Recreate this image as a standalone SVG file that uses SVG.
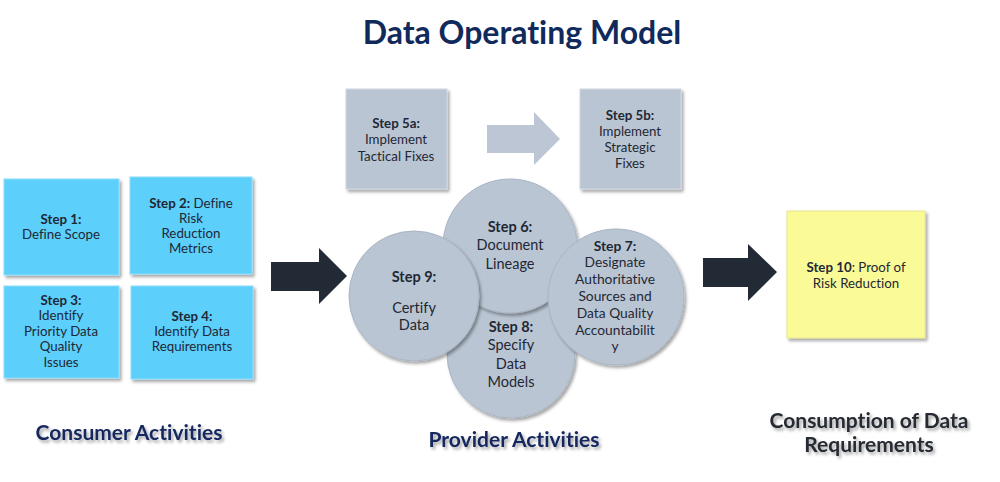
<svg xmlns="http://www.w3.org/2000/svg" width="1000" height="482" viewBox="0 0 1000 482">
<defs>
<filter id="sh" x="-10%" y="-10%" width="130%" height="130%">
<feDropShadow dx="2" dy="2.5" stdDeviation="1.6" flood-color="#000" flood-opacity="0.35"/>
</filter>
<filter id="tsh" x="-10%" y="-30%" width="130%" height="170%">
<feDropShadow dx="2" dy="2.5" stdDeviation="1.5" flood-color="#000" flood-opacity="0.35"/>
</filter>
</defs>
<style>
text{font-family:Lato,"Liberation Sans",sans-serif;text-anchor:middle;fill:#1f2834;font-variant-ligatures:none}
.t{font-size:13.3px}
.c{font-size:14.5px}
.b{font-weight:bold}
.blue{fill:#5ccffb;stroke:#8ddcfb;stroke-width:1;filter:url(#sh)}
.gray{fill:#bac5d3;stroke:#cfd7e1;stroke-width:1;filter:url(#sh)}
.circ{fill:#bac5d3;stroke:#a9b4c2;stroke-width:1;filter:url(#sh)}
.yel{fill:#fafa96;stroke:#e4e490;stroke-width:1;filter:url(#sh)}
.head{font-size:21px;font-weight:bold;fill:#14285e;filter:url(#tsh)}
</style>
<rect width="1000" height="482" fill="#ffffff"/>
<text x="522" y="44" style="font-size:32px;font-weight:bold;fill:#102a5c">Data Operating Model</text>

<g id="connectors">
<path d="M271,262 H319 V248 L347,276 L319,304 V291 H271 Z" fill="#222a35"/>
<path d="M703,258 H748 V244 L777,272 L748,301 V287 H703 Z" fill="#222a35"/>
<path d="M487,125 H534 V112 L560,139 L534,165 V153 H487 Z" fill="#bcc6d4"/>
</g>

<g id="step1">
<rect class="blue" x="4" y="179" width="115" height="96"/>
<text class="t" x="61" y="223.5"><tspan class="b">Step 1:</tspan><tspan x="61" dy="15.5">Define Scope</tspan></text>
</g>
<g id="step2">
<rect class="blue" x="130" y="177" width="122" height="97"/>
<text class="t" x="191" y="207.5"><tspan class="b">Step 2:</tspan> Define<tspan x="191" dy="15.3">Risk</tspan><tspan x="191" dy="15.3">Reduction</tspan><tspan x="191" dy="15.3">Metrics</tspan></text>
</g>
<g id="step3">
<rect class="blue" x="4" y="286" width="115" height="92"/>
<text class="t" x="61" y="305"><tspan class="b">Step 3:</tspan><tspan x="61" dy="15.4">Identify</tspan><tspan x="61" dy="15.4">Priority Data</tspan><tspan x="61" dy="15.4">Quality</tspan><tspan x="61" dy="15.4">Issues</tspan></text>
</g>
<g id="step4">
<rect class="blue" x="131" y="286" width="122" height="93"/>
<text class="t" x="192" y="320.5"><tspan class="b">Step 4:</tspan><tspan x="192" dy="15.4">Identify Data</tspan><tspan x="192" dy="15.4">Requirements</tspan></text>
</g>

<g id="step5a">
<rect class="gray" x="346" y="89" width="101" height="100"/>
<text class="t" x="396" y="127.5"><tspan class="b">Step 5a:</tspan><tspan x="396" dy="16.5">Implement</tspan><tspan x="396" dy="16.5">Tactical Fixes</tspan></text>
</g>
<g id="step5b">
<rect class="gray" x="580" y="89" width="101" height="100"/>
<text class="t" x="630" y="119.5"><tspan class="b">Step 5b:</tspan><tspan x="630" dy="16.3">Implement</tspan><tspan x="630" dy="16.3">Strategic</tspan><tspan x="630" dy="16.3">Fixes</tspan></text>
</g>

<g id="step8">
<circle class="circ" cx="511" cy="354" r="64"/>
<text class="c" x="511" y="332"><tspan class="b">Step 8:</tspan><tspan x="511" dy="18.3">Specify</tspan><tspan x="511" dy="18.3">Data</tspan><tspan x="511" dy="18.3">Models</tspan></text>
</g>
<g id="step6">
<circle class="circ" cx="510" cy="246" r="67"/>
<text class="c" x="510" y="232"><tspan class="b">Step 6:</tspan><tspan x="510" dy="18.3">Document</tspan><tspan x="510" dy="18.3">Lineage</tspan></text>
</g>
<g id="step9">
<circle class="circ" cx="414" cy="296" r="65"/>
<text class="c" x="414" y="282"><tspan class="b">Step 9:</tspan><tspan x="414" dy="31">Certify</tspan><tspan x="414" dy="16.5">Data</tspan></text>
</g>
<g id="step7">
<circle class="circ" cx="616" cy="297" r="68"/>
<text class="t" x="615" y="250.5" style="font-size:13.8px"><tspan class="b">Step 7:</tspan><tspan x="615" dy="16.8">Designate</tspan><tspan x="615" dy="16.8">Authoritative</tspan><tspan x="615" dy="16.8">Sources and</tspan><tspan x="615" dy="16.8">Data Quality</tspan><tspan x="615" dy="16.8">Accountabilit</tspan><tspan x="615" dy="16.8">y</tspan></text>
</g>

<g id="step10">
<rect class="yel" x="787" y="211" width="138" height="127"/>
<text class="t" x="856" y="271.5"><tspan class="b">Step 10</tspan>: Proof of<tspan x="856" dy="16">Risk Reduction</tspan></text>
</g>

<text class="head" x="129" y="440">Consumer Activities</text>
<text class="head" x="514" y="447">Provider Activities</text>
<text class="head" x="869" y="428" style="fill:#262a33">Consumption of Data<tspan x="869" dy="24">Requirements</tspan></text>
</svg>
